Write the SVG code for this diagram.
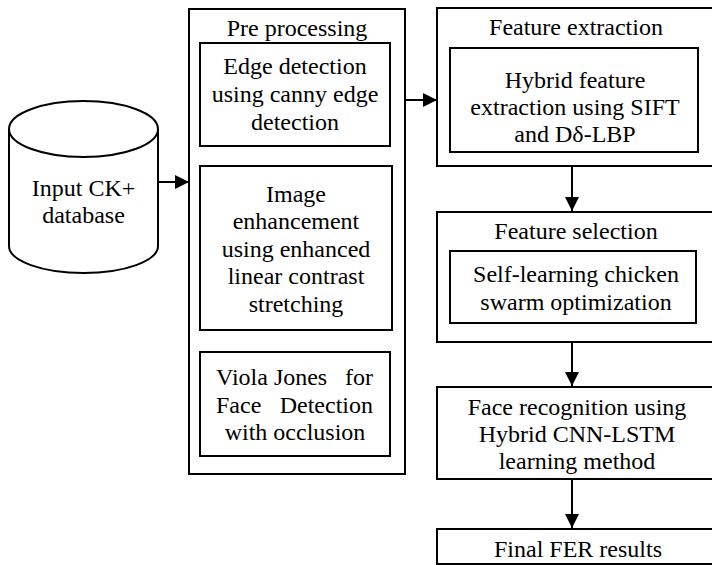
<svg xmlns="http://www.w3.org/2000/svg" width="712" height="565" viewBox="0 0 712 565">
  <style>
    .box { fill: #ffffff; stroke: #000000; stroke-width: 2; }
    .txt { font-family: "Liberation Serif", "Times New Roman", serif; font-size: 24px; fill: #000000; text-anchor: middle; }
    .lft { text-anchor: start; }
    .rgt { text-anchor: end; }
    .link { stroke: #000000; stroke-width: 2; fill: none; }
  </style>
  <defs>
    <marker id="arrow" viewBox="0 0 10 10" refX="10" refY="5" markerWidth="15" markerHeight="14" markerUnits="userSpaceOnUse" orient="auto">
      <path d="M0,0 L10,5 L0,10 Z" fill="#000000"/>
    </marker>
  </defs>
  <rect width="712" height="565" fill="#ffffff"/>

  <!-- Input database cylinder -->
  <g id="input-db">
    <path class="box" d="M9,129 L9,246 A74.5,27 0 0 0 158,246 L158,129"/>
    <ellipse class="box" cx="83.5" cy="129" rx="74.5" ry="28"/>
    <text class="txt" x="83.5" y="196">Input CK+</text>
    <text class="txt" x="83.5" y="223">database</text>
  </g>

  <!-- Pre processing stage -->
  <g id="pre-processing">
    <rect class="box" x="189" y="9" width="216" height="465"/>
    <text class="txt" x="297" y="36">Pre processing</text>
  </g>
  <g id="edge-detection">
    <rect class="box" x="200" y="43" width="190" height="103"/>
    <text class="txt" x="295" y="74">Edge detection</text>
    <text class="txt" x="295" y="102">using canny edge</text>
    <text class="txt" x="295" y="130">detection</text>
  </g>
  <g id="image-enhancement">
    <rect class="box" x="200" y="166" width="192" height="164"/>
    <text class="txt" x="296" y="202">Image</text>
    <text class="txt" x="296" y="229">enhancement</text>
    <text class="txt" x="296" y="257">using enhanced</text>
    <text class="txt" x="296" y="284">linear contrast</text>
    <text class="txt" x="296" y="312">stretching</text>
  </g>
  <g id="viola-jones">
    <rect class="box" x="200" y="352" width="190" height="104"/>
    <text class="txt lft" x="216" y="385">Viola Jones</text>
    <text class="txt rgt" x="373" y="385">for</text>
    <text class="txt lft" x="216" y="413">Face</text>
    <text class="txt rgt" x="373" y="413">Detection</text>
    <text class="txt" x="295" y="440">with occlusion</text>
  </g>

  <!-- Feature extraction stage -->
  <g id="feature-extraction">
    <rect class="box" x="437" y="8" width="282" height="158"/>
    <text class="txt" x="576" y="35">Feature extraction</text>
  </g>
  <g id="hybrid-features">
    <rect class="box" x="450" y="48" width="248" height="104"/>
    <text class="txt" x="575" y="88">Hybrid feature</text>
    <text class="txt" x="575" y="115">extraction using SIFT</text>
    <text class="txt" x="575" y="142">and Dδ-LBP</text>
  </g>

  <!-- Feature selection stage -->
  <g id="feature-selection">
    <rect class="box" x="437" y="212" width="282" height="130"/>
    <text class="txt" x="576" y="239">Feature selection</text>
  </g>
  <g id="chicken-swarm">
    <rect class="box" x="450" y="251" width="246" height="72"/>
    <text class="txt" x="576" y="282">Self-learning chicken</text>
    <text class="txt" x="576" y="310">swarm optimization</text>
  </g>

  <!-- Recognition -->
  <g id="face-recognition">
    <rect class="box" x="437" y="387" width="282" height="92"/>
    <text class="txt" x="577" y="415">Face recognition using</text>
    <text class="txt" x="577" y="442">Hybrid CNN-LSTM</text>
    <text class="txt" x="577" y="469">learning method</text>
  </g>

  <!-- Output -->
  <g id="final-results">
    <rect class="box" x="437" y="529" width="282" height="35"/>
    <text class="txt" x="578" y="557">Final FER results</text>
  </g>

  <!-- Connectors -->
  <g id="connectors">
    <line class="link" x1="158" y1="182" x2="189" y2="182" marker-end="url(#arrow)"/>
    <line class="link" x1="405" y1="100" x2="437" y2="100" marker-end="url(#arrow)"/>
    <line class="link" x1="572" y1="166" x2="572" y2="211" marker-end="url(#arrow)"/>
    <line class="link" x1="572" y1="342" x2="572" y2="386" marker-end="url(#arrow)"/>
    <line class="link" x1="572" y1="479" x2="572" y2="528" marker-end="url(#arrow)"/>
  </g>
</svg>
